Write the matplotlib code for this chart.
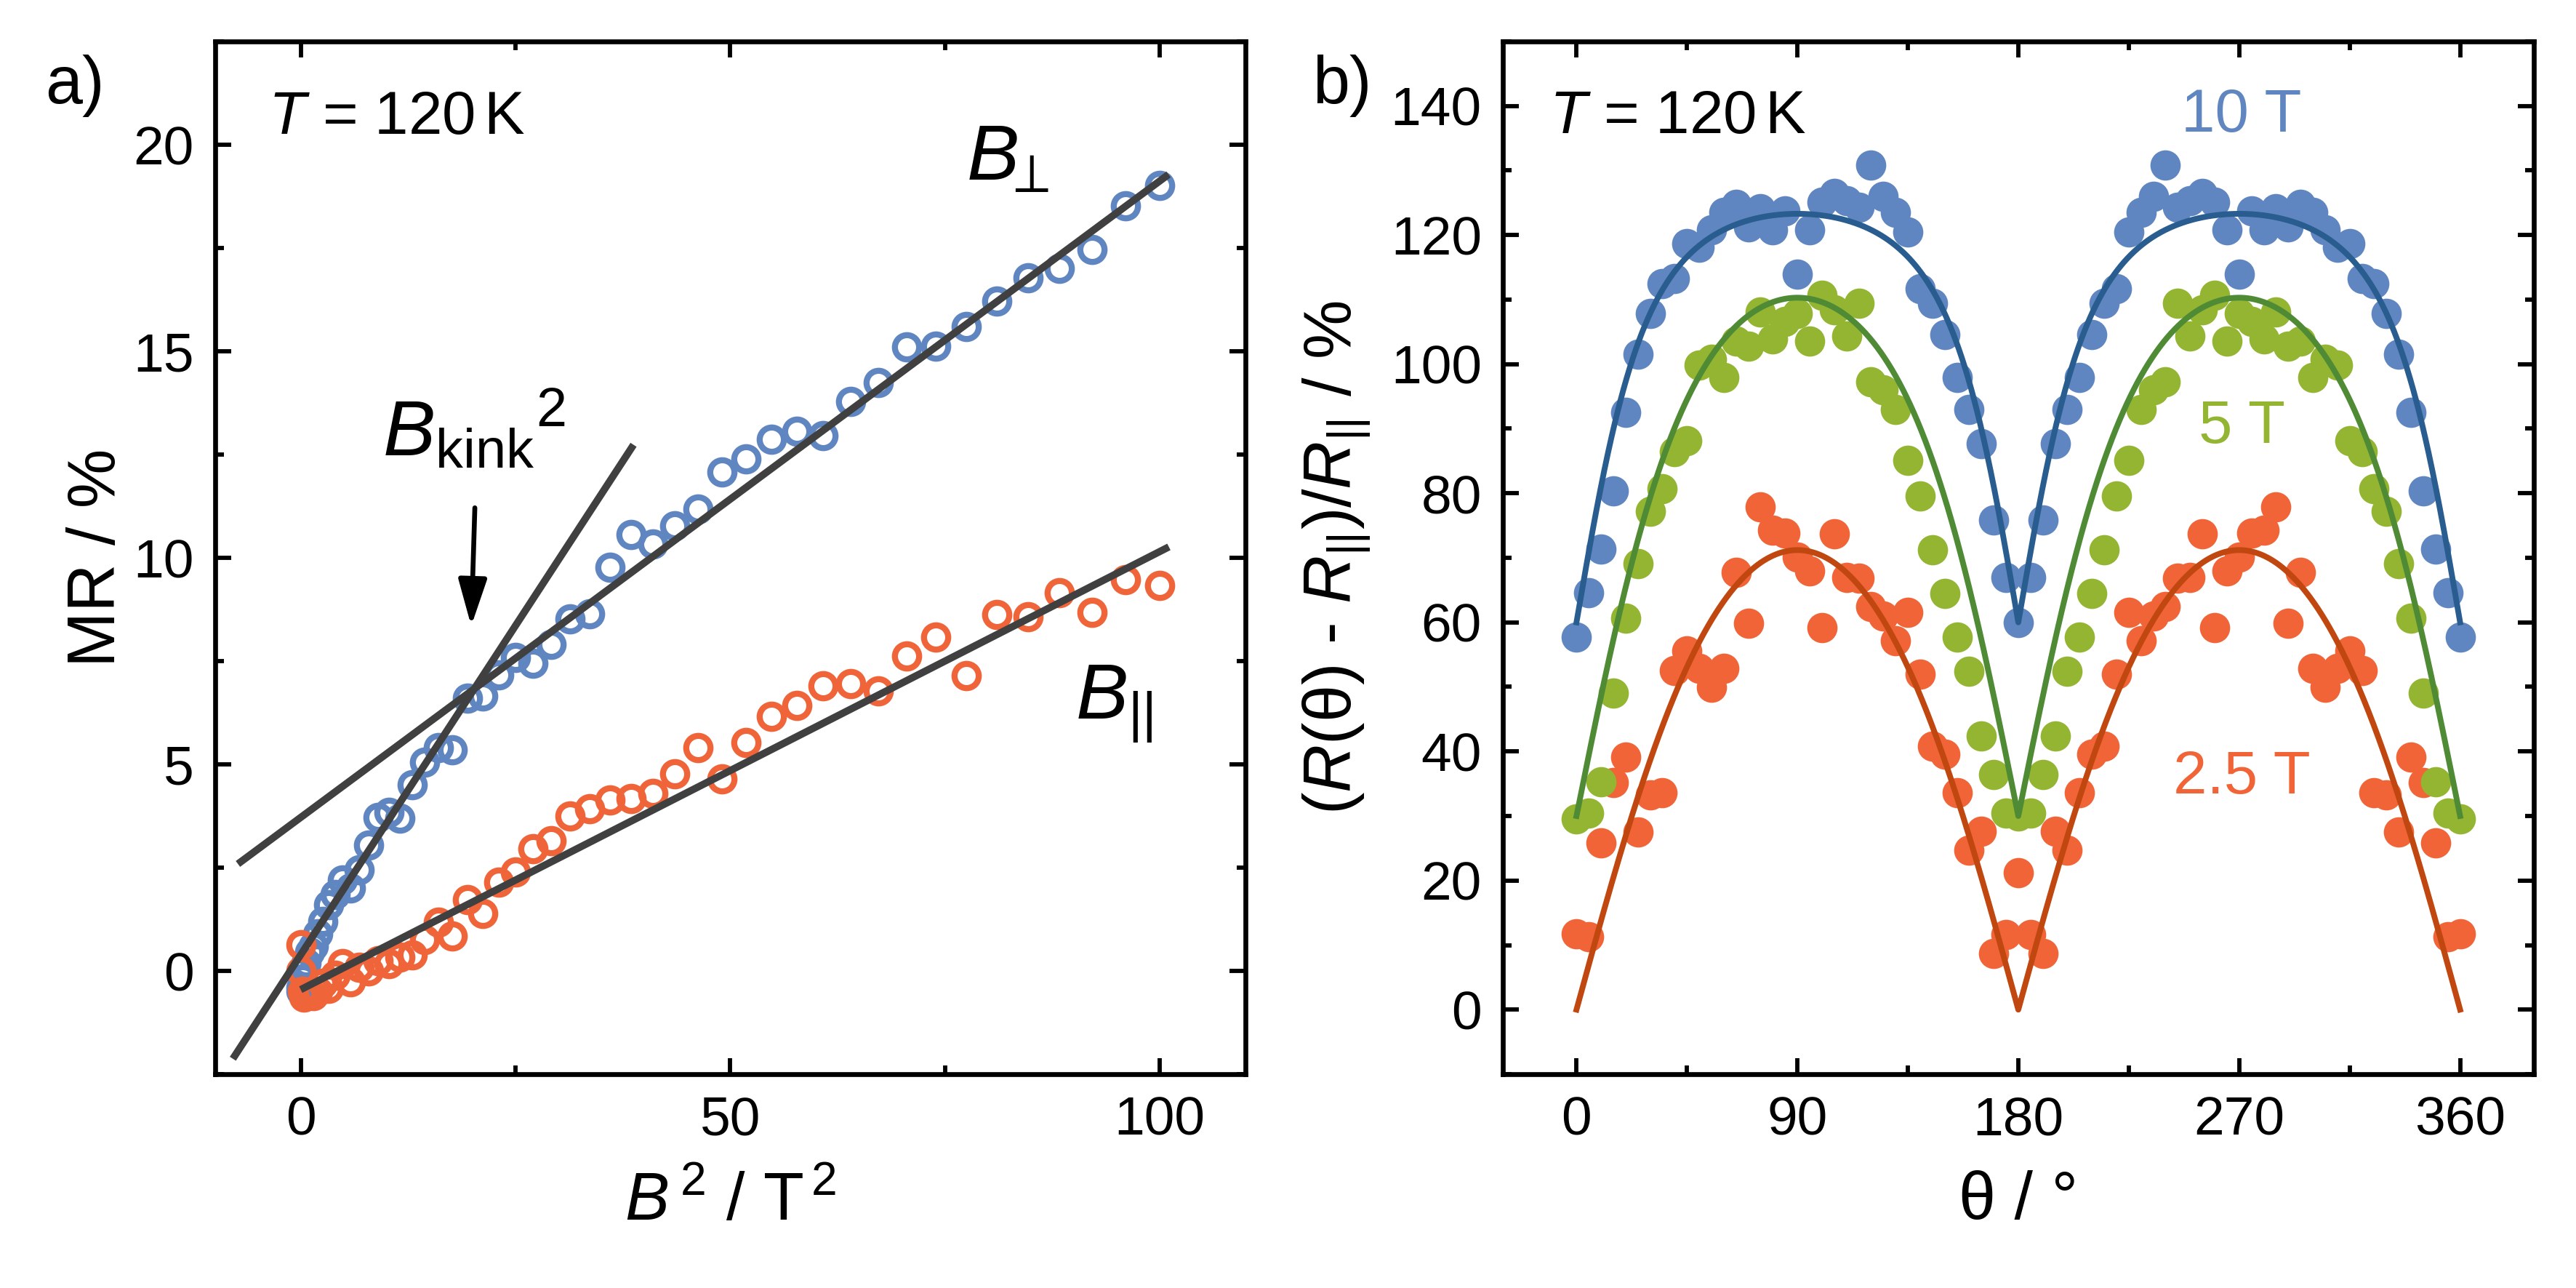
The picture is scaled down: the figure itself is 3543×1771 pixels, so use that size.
import matplotlib
matplotlib.use('Agg')
import matplotlib.pyplot as plt
import numpy as np
from matplotlib.ticker import MultipleLocator

plt.rcParams['font.family'] = ['Liberation Sans', 'DejaVu Sans']
plt.rcParams['mathtext.fontset'] = 'custom'
plt.rcParams['mathtext.rm'] = 'Liberation Sans'
plt.rcParams['mathtext.it'] = 'Liberation Sans:italic'
plt.rcParams['mathtext.bf'] = 'Liberation Sans:bold'

# ---- panel a: MR vs B^2 ----
b2 = [0.0, 0.04, 0.16, 0.36, 0.64, 1.0, 1.44, 1.96, 2.56, 3.24, 4.0, 4.84, 5.76,
      6.76, 7.84, 9.0, 10.24, 11.56, 12.96, 14.44, 16.0, 17.64, 19.36, 21.16,
      23.04, 25.0, 27.04, 29.16, 31.36, 33.64, 36.0, 38.44, 40.96, 43.56, 46.24,
      49.0, 51.84, 54.76, 57.76, 60.84, 64.0, 67.24, 70.56, 73.96, 77.44, 81.0,
      84.64, 88.36, 92.16, 96.04, 100.0]
mr_perp = [-0.5, -0.4, -0.2, 0.05, 0.2, 0.45, 0.6, 0.9, 1.2, 1.6, 1.85, 2.2, 2.0,
           2.45, 3.05, 3.71, 3.84, 3.69, 4.51, 5.06, 5.40, 5.36, 6.60, 6.66,
           7.17, 7.59, 7.44, 7.91, 8.52, 8.65, 9.77, 10.56, 10.33, 10.78, 11.18,
           12.08, 12.40, 12.87, 13.07, 12.95, 13.79, 14.24, 15.10, 15.12, 15.59,
           16.22, 16.78, 17.0, 17.46, 18.52, 19.02]
mr_par = [0.63, 0.0, -0.5, -0.63, -0.6, -0.55, -0.59, -0.5, -0.3, -0.42, -0.1,
          0.17, -0.27, 0.08, 0.0, 0.25, 0.17, 0.34, 0.38, 0.76, 1.18, 0.84, 1.73,
          1.39, 2.15, 2.4, 2.95, 3.16, 3.75, 3.92, 4.13, 4.18, 4.30, 4.77, 5.41,
          4.64, 5.52, 6.16, 6.43, 6.91, 6.95, 6.77, 7.63, 8.08, 7.15, 8.62, 8.57,
          9.16, 8.68, 9.47, 9.33]

# straight fits: slope, intercept, x start, x end
fit_slope = [0.3185, 0.154, 0.106]
fit_icpt = [0.40, 3.72, -0.45]
fit_x0 = [-7.7, -7.0, 0.35]
fit_x1 = [38.5, 100.7, 100.7]

# ---- panel b: angular MR ----
theta = [0, 5, 10, 15, 20, 25, 30, 35, 40, 45, 50, 55, 60, 65, 70, 75, 80, 85,
         90, 95, 100, 105, 110, 115, 120, 125, 130, 135, 140, 145, 150, 155,
         160, 165, 170, 175, 180, 185, 190, 195, 200, 205, 210, 215, 220, 225,
         230, 235, 240, 245, 250, 255, 260, 265, 270, 275, 280, 285, 290, 295,
         300, 305, 310, 315, 320, 325, 330, 335, 340, 345, 350, 355, 360]
mr_10T = [57.7, 64.6, 71.3, 80.4, 92.5, 101.6, 107.9, 112.5, 113.3, 118.7, 118.1,
          120.8, 123.5, 124.8, 121.3, 124.1, 120.8, 123.8, 113.9, 120.8, 125.1,
          126.5, 125.3, 124.3, 130.8, 126.0, 123.5, 120.5, 111.7, 109.4, 104.6,
          97.9, 93.0, 87.7, 75.9, 67.0, 60.0,
          67.0, 75.9, 87.7, 93.0, 97.9, 104.6, 109.4, 111.7, 120.5, 123.5, 126.0,
          130.8, 124.3, 125.3, 126.5, 125.1, 120.8, 113.9, 123.8, 120.8, 124.1,
          121.3, 124.8, 123.5, 120.8, 118.1, 118.7, 113.3, 112.5, 107.9, 101.6,
          92.5, 80.4, 71.3, 64.6, 57.7]
mr_5T = [29.5, 30.5, 35.3, 49.0, 60.6, 69.1, 77.2, 80.7, 86.4, 88.1, 99.9, 100.8,
         97.9, 103.6, 102.8, 108.1, 103.9, 106.6, 107.9, 103.6, 110.7, 108.4,
         104.4, 109.4, 97.3, 96.0, 93.0, 85.1, 79.6, 71.2, 64.5, 57.7, 52.4, 42.4,
         36.4, 30.5, 30.0,
         30.5, 36.4, 42.4, 52.4, 57.7, 64.5, 71.2, 79.6, 85.1, 93.0, 96.0, 97.3,
         109.4, 104.4, 108.4, 110.7, 103.6, 107.9, 106.6, 103.9, 108.1, 102.8,
         103.6, 97.9, 100.8, 99.9, 88.1, 86.4, 80.7, 77.2, 69.1, 60.6, 49.0,
         35.3, 30.5, 29.5]
mr_25T = [11.8, 11.3, 25.8, 35.2, 39.1, 27.5, 33.3, 33.6, 52.5, 55.6, 52.9, 49.9,
          52.9, 67.8, 59.9, 77.9, 74.3, 73.8, 70.1, 68.0, 59.2, 73.7, 67.0, 66.8,
          62.5, 61.0, 57.1, 61.5, 52.0, 40.8, 39.6, 33.6, 24.7, 27.6, 8.7, 11.6,
          21.2,
          11.6, 8.7, 27.6, 24.7, 33.6, 39.6, 40.8, 52.0, 61.5, 57.1, 61.0, 62.5,
          66.8, 67.0, 73.7, 59.2, 68.0, 70.1, 73.8, 74.3, 77.9, 59.9, 67.8, 52.9,
          49.9, 52.9, 55.6, 52.5, 33.6, 33.3, 27.5, 39.1, 35.2, 25.8, 11.3, 11.8]

# angular fit parameters (offset, amplitude, anisotropy)
fields = ['10 T', '5 T', '2.5 T']
fit_off = [60.0, 30.0, 0.0]
fit_amp = [63.3, 80.3, 71.2]
fit_anis = [0.25, 0.55, 0.8]

c_blue = '#5F86C0'
c_orange = '#F0643A'
c_green = '#93B532'
line_cols = ['#2A5D8F', '#4F8A35', '#C0470F']
pt_cols = [c_blue, c_green, '#F06437']

fig = plt.figure(figsize=(11.81, 5.9035), dpi=300)
axa = fig.add_axes([0.0835, 0.166, 0.400, 0.8018])
axb = fig.add_axes([0.5834, 0.166, 0.4002, 0.8018])


def style(ax, xmaj, xmin, ymaj, ymin):
    for s in ax.spines.values():
        s.set_linewidth(1.6)
    ax.xaxis.set_major_locator(MultipleLocator(xmaj))
    ax.xaxis.set_minor_locator(MultipleLocator(xmin))
    ax.yaxis.set_major_locator(MultipleLocator(ymaj))
    ax.yaxis.set_minor_locator(MultipleLocator(ymin))
    ax.tick_params(which='both', direction='in', top=True, right=True,
                   width=1.4, labelsize=18, pad=7)
    ax.tick_params(which='major', length=5.3)
    ax.tick_params(which='minor', length=2.8)


# panel a
axa.plot(b2, mr_perp, 'o', mfc='none', mec=c_blue, ms=8, mew=2, zorder=2)
axa.plot(b2, mr_par, 'o', mfc='none', mec=c_orange, ms=8, mew=2, zorder=2)
for k, b, x0, x1 in zip(fit_slope, fit_icpt, fit_x0, fit_x1):
    xs = np.array([x0, x1])
    axa.plot(xs, k * xs + b, color='#404040', lw=2.4, zorder=3)

axa.set_xlim(-10, 110)
axa.set_ylim(-2.5, 22.5)
style(axa, 50, 25, 5, 2.5)
axa.set_ylabel('MR / %', fontsize=22)
axa.yaxis.set_label_coords(-0.084, 0.5)
axa.set_xlabel(r'$B^{\,2}$ / T$^{\,2}$', fontsize=22)
axa.xaxis.set_label_coords(0.5, -0.094)

axa.text(0.0515, 0.9106, r'$T$ = 120$\,$K', transform=axa.transAxes,
         fontsize=20, va='baseline')
axa.text(77.5, 19.14, r'$B_{\!\!\perp}$', fontsize=26, va='baseline')
axa.text(90.2, 6.1, r'$B_{||}$', fontsize=26, va='baseline')
axa.text(9.5, 12.45, r'${B_{\mathrm{kink}}}^{2}$', fontsize=26, va='baseline')
axa.annotate('', xy=(19.83, 8.35), xytext=(20.25, 11.21),
             arrowprops=dict(arrowstyle='-|>,head_length=0.65,head_width=0.2',
                             color='black', lw=1.6, shrinkA=0, shrinkB=0,
                             mutation_scale=20))

# panel b
for ys, col in zip([mr_25T, mr_5T, mr_10T], [pt_cols[2], pt_cols[1], pt_cols[0]]):
    axb.plot(theta, ys, 'o', color=col, ms=10, mew=0, zorder=2)

th = np.linspace(0, 360, 1441)
s = np.abs(np.sin(np.radians(th)))
c = np.abs(np.cos(np.radians(th)))
for off, amp, an, col in zip(fit_off, fit_amp, fit_anis, line_cols):
    axb.plot(th, off + amp * s / np.sqrt(s ** 2 + an * c ** 2), color=col,
             lw=1.9, zorder=3)

axb.set_xlim(-30, 390)
axb.set_ylim(-10, 150)
style(axb, 90, 45, 20, 10)
axb.set_ylabel(r'($R$(θ) - $R_{||}$)/$R_{||}$ / %', fontsize=22)
axb.yaxis.set_label_coords(-0.126, 0.5)
axb.set_xlabel('θ / °', fontsize=22)
axb.xaxis.set_label_coords(0.5, -0.093)

axb.text(0.045, 0.911, r'$T$ = 120$\,$K', transform=axb.transAxes,
         fontsize=20, va='baseline')
label_y = [136, 87.8, 33.5]
for name, yy, col in zip(fields, label_y, pt_cols):
    axb.text(271, yy, name, color=col, fontsize=20, ha='center', va='baseline')

fig.text(0.0175, 0.920, 'a)', fontsize=22, va='baseline')
fig.text(0.5094, 0.920, 'b)', fontsize=22, va='baseline')

fig.savefig('out.png', dpi=300)
